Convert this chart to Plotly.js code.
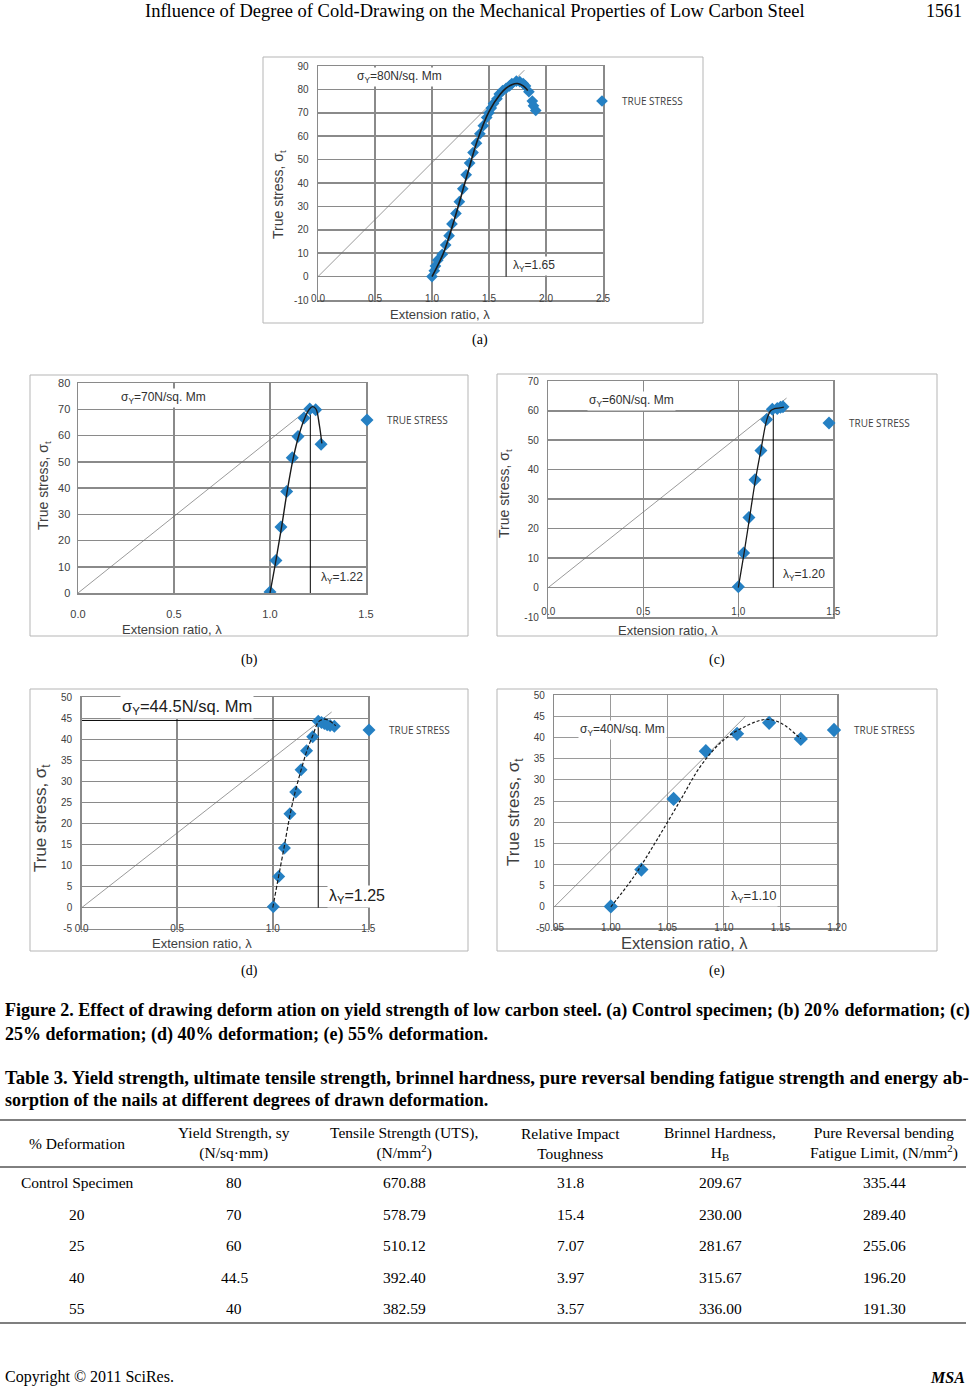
<!DOCTYPE html>
<html><head><meta charset="utf-8">
<script src="https://cdn.plot.ly/plotly-3.0.1.min.js"></script>
<style>html,body{margin:0;padding:0;background:#fff;}#page{width:971px;height:1386px;}</style>
</head><body><div id="page"></div>
<script>
// ===================== DATA =====================
// (a) Control specimen
const aLambda = [1.00,1.02,1.03,1.05,1.09,1.12,1.15,1.175,1.21,1.24,1.27,1.30,1.33,1.36,1.39,1.42,1.45,1.48,1.50,1.52,1.54,1.57,1.59,1.62,1.65,1.68,1.70,1.74,1.77,1.80,1.82,1.85,1.88,1.89,1.91];
const aStress = [0,2.5,4.5,7,9.5,13.5,17.5,22.5,27,32,37.5,43.5,48.5,53,57,61,64.5,68,70,72,74,76,78,79.5,80.5,81.5,82.5,83.5,83.3,82.5,81.5,79,75,73,71];
const aFitLambda = [1.0,1.1,1.2,1.3,1.4,1.5,1.6,1.65,1.7,1.75,1.8,1.84];
const aFitStress = [0,10,25,42,58.5,70.5,78,80.5,82,82.5,81.5,79.5];
const aTanLambda = [0,1.81], aTanStress = [0,88.2];
const aYieldLambda = [1.65,1.65], aYieldStress = [0,80.5];
const aXTicks = [0,0.5,1,1.5,2,2.5], aXLabels = ['0.0','0.5','1.0','1.5','2.0','2.5'];
const aYTicks = [-10,0,10,20,30,40,50,60,70,80,90], aYLabels = ['-10','0','10','20','30','40','50','60','70','80','90'];

// (b) 20% deformation
const bLambda = [1.00,1.031,1.057,1.087,1.116,1.146,1.177,1.207,1.238,1.266];
const bStress = [0.4,12.4,25.1,38.7,51.5,59.6,66.7,70.1,69.8,56.7];
const bFitLambda = [1.0,1.03,1.06,1.09,1.12,1.15,1.18,1.205,1.222,1.24,1.257,1.27];
const bFitStress = [0,12,25,39,51,60,66.5,70,71,70,64,57];
const bTanLambda = [0,1.19], bTanStress = [0,69.5];
const bYieldLambda = [1.21,1.21], bYieldStress = [0,71];
const bXTicks = [0,0.5,1,1.5], bXLabels = ['0.0','0.5','1.0','1.5'];
const bYTicks = [0,10,20,30,40,50,60,70,80], bYLabels = ['0','10','20','30','40','50','60','70','80'];

// (c) 25% deformation
const cLambda = [1.00,1.028,1.056,1.088,1.119,1.149,1.179,1.205,1.222,1.235];
const cStress = [0.3,11.7,23.8,36.6,46.5,57.0,60.5,60.8,61.2,61.4];
const cFitLambda = [1.0,1.03,1.06,1.09,1.12,1.15,1.17,1.19,1.22,1.24];
const cFitStress = [0,11.5,24,36.5,47,57,60,60.7,61,61.2];
const cTanLambda = [0,1.254], cTanStress = [0,64.3];
const cYieldLambda = [1.184,1.184], cYieldStress = [0,60.5];
const cXTicks = [0,0.5,1,1.5], cXLabels = ['0.0','0.5','1.0','1.5'];
const cYTicks = [-10,0,10,20,30,40,50,60,70], cYLabels = ['-10','0','10','20','30','40','50','60','70'];

// (d) 40% deformation
const dLambda = [1.003,1.031,1.061,1.090,1.120,1.148,1.177,1.209,1.238,1.255,1.270,1.285,1.300,1.322];
const dStress = [0.2,7.4,14.2,22.3,27.5,32.8,37.3,40.6,44.3,44.0,43.8,43.5,43.3,43.1];
const dFitLambda = [1.0,1.03,1.06,1.09,1.12,1.15,1.18,1.21,1.24,1.27,1.30,1.33];
const dFitStress = [0,7.3,14.5,22,28,33,37.5,41,44.2,44.8,44.3,43.2];
const dTanLambda = [0,1.308], dTanStress = [0,46.5];
const dYieldLambda = [1.238,1.238], dYieldStress = [0,44.5];
const dSigmaLambda = [0,1.238], dSigmaStress = [44.5,44.5];
const dXTicks = [0,0.5,1,1.5], dXLabels = ['0.0','0.5','1.0','1.5'];
const dYTicks = [-5,0,5,10,15,20,25,30,35,40,45,50], dYLabels = ['-5','0','5','10','15','20','25','30','35','40','45','50'];

// (e) 55% deformation
const eLambda = [1.000,1.027,1.0555,1.084,1.1116,1.140,1.168];
const eStress = [0.1,8.8,25.5,36.8,40.9,43.5,39.7];
const eFitLambda = [1.0,1.02,1.04,1.06,1.08,1.10,1.12,1.137,1.15,1.168];
const eFitStress = [0,7,15.5,24.5,33.5,39.5,42.8,44.3,43.5,39.7];
const eTanLambda = [0.95,1.119], eTanStress = [0,45];
const eXTicks = [0.95,1.0,1.05,1.1,1.15,1.2], eXLabels = ['0.95','1.00','1.05','1.10','1.15','1.20'];
const eYTicks = [-5,0,5,10,15,20,25,30,35,40,45,50], eYLabels = ['-5','0','5','10','15','20','25','30','35','40','45','50'];

// Table 3
const tableDeformation = ['Control Specimen','20','25','40','55'];
const tableYield = ['80','70','60','44.5','40'];
const tableUTS = ['670.88','578.79','510.12','392.40','382.59'];
const tableImpact = ['31.8','15.4','7.07','3.97','3.57'];
const tableHardness = ['209.67','230.00','281.67','315.67','336.00'];
const tableFatigue = ['335.44','289.40','255.06','196.20','191.30'];

// ===================== LAYOUT HELPERS =====================
const W = 971, H = 1386;
const X = p => p / W, Y = p => 1 - p / H;
const SANS = 'Liberation Sans, Arial, sans-serif';
const SERIF = 'Liberation Serif, Times New Roman, serif';
const GRID = '#8a8a8a';
const BLUE = '#2580c3';
const TXT = '#404040';

function xax(l, r, range, tv, tt, standoff, fs) {
  return {domain:[X(l),X(r)], range:range, tickmode:'array', tickvals:tv, ticktext:tt,
    showgrid:true, gridcolor:GRID, gridwidth:1.5, showline:true, mirror:true, linecolor:GRID, linewidth:1.5,
    zeroline:false, ticks:'', ticklabelstandoff:standoff, tickfont:{family:SANS,size:fs||10,color:TXT}, fixedrange:true};
}
function yax(b, t, range, tv, tt, anchor, standoff, fs) {
  return {domain:[Y(b),Y(t)], range:range, anchor:anchor, tickmode:'array', tickvals:tv, ticktext:tt,
    showgrid:true, gridcolor:GRID, gridwidth:1.5, showline:true, mirror:true, linecolor:GRID, linewidth:1.5,
    zeroline:false, ticks:'', ticklabelstandoff:standoff, tickfont:{family:SANS,size:fs||10,color:TXT}, fixedrange:true};
}
function leg(x, y) {
  return {x:X(x), y:Y(y), xanchor:'left', yanchor:'middle', bgcolor:'rgba(0,0,0,0)', borderwidth:0,
    font:{family:'Open Sans, sans-serif', size:10, color:TXT}};
}
function ann(text, x, y, o) {
  const a = {text:text, x:X(x), y:Y(y), xref:'paper', yref:'paper', showarrow:false,
    xanchor:'left', yanchor:'middle', font:{family:SANS, size:12, color:'#303030'}};
  if (o) { for (const k in o) a[k] = (k === 'font') ? Object.assign({}, o[k]) : o[k]; }
  return a;
}

// ===================== TRACES =====================
const traces = [];
function addChart(k, P) {
  const xa = 'x' + k, ya = 'y' + k;
  traces.push({x:P.tanX, y:P.tanY, xaxis:xa, yaxis:ya, mode:'lines', line:{color:'#6e6e6e', width:0.7}, showlegend:false, hoverinfo:'skip'});
  if (P.yX) traces.push({x:P.yX, y:P.yY, xaxis:xa, yaxis:ya, mode:'lines', line:{color:'#000', width:1}, showlegend:false, hoverinfo:'skip'});
  if (P.sX) traces.push({x:P.sX, y:P.sY, xaxis:xa, yaxis:ya, mode:'lines', line:{color:'#000', width:1}, showlegend:false, hoverinfo:'skip'});
  traces.push({x:P.x, y:P.y, xaxis:xa, yaxis:ya, mode:'markers', name:'TRUE STRESS', legend:P.legend,
    marker:{symbol:'diamond', size:P.ms, color:BLUE, line:{width:0}}, showlegend:true});
  traces.push({x:P.fX, y:P.fY, xaxis:xa, yaxis:ya, mode:'lines', line:{color:'#1a1a1a', width:P.fw, shape:'spline', dash:P.dash}, showlegend:false, hoverinfo:'skip'});
}
addChart('', {x:aLambda, y:aStress, fX:aFitLambda, fY:aFitStress, tanX:aTanLambda, tanY:aTanStress, yX:aYieldLambda, yY:aYieldStress, legend:'legend', ms:9, fw:1.6, dash:'solid'});
addChart('2', {x:bLambda, y:bStress, fX:bFitLambda, fY:bFitStress, tanX:bTanLambda, tanY:bTanStress, yX:bYieldLambda, yY:bYieldStress, legend:'legend2', ms:10, fw:1.4, dash:'solid'});
addChart('3', {x:cLambda, y:cStress, fX:cFitLambda, fY:cFitStress, tanX:cTanLambda, tanY:cTanStress, yX:cYieldLambda, yY:cYieldStress, legend:'legend3', ms:10, fw:1.3, dash:'solid'});
addChart('4', {x:dLambda, y:dStress, fX:dFitLambda, fY:dFitStress, tanX:dTanLambda, tanY:dTanStress, yX:dYieldLambda, yY:dYieldStress, sX:dSigmaLambda, sY:dSigmaStress, legend:'legend4', ms:10, fw:1.2, dash:'4px,2px'});
addChart('5', {x:eLambda, y:eStress, fX:eFitLambda, fY:eFitStress, tanX:eTanLambda, tanY:eTanStress, legend:'legend5', ms:11, fw:1.2, dash:'3px,2px'});

// ===================== ANNOTATIONS =====================
const A = [];
// page header / footer
A.push(ann('Influence of Degree of Cold-Drawing on the Mechanical Properties of Low Carbon Steel', 475, 11, {xanchor:'center', font:{family:SERIF,size:18.5,color:'#000'}}));
A.push(ann('1561', 964, 11, {xanchor:'right', font:{family:SERIF,size:18,color:'#000'}}));
A.push(ann('Copyright © 2011 SciRes.', 3, 1377, {font:{family:SERIF,size:16,color:'#000'}}));
A.push(ann('<b><i>MSA</i></b>', 967, 1377, {xanchor:'right', font:{family:SERIF,size:16,color:'#000'}}));
// sub-figure labels
[['(a)',480,340],['(b)',249,660],['(c)',717,660],['(d)',249,971],['(e)',717,971]].forEach(c =>
  A.push(ann(c[0], c[1], c[2], {xanchor:'center', font:{family:SERIF,size:14,color:'#000'}})));
// captions
const CAP = {family:SERIF, size:18, color:'#000', weight:'bold'};
A.push(ann('Figure 2. Effect of drawing deform ation on yield strength of low carbon steel. (a) Control specimen; (b) 20% deformation; (c)', 3, 1010, {font:CAP}));
A.push(ann('25% deformation; (d) 40% deformation; (e) 55% deformation.', 3, 1034, {font:CAP}));
A.push(ann('Table 3. Yield strength, ultimate tensile strength, brinnel hardness, pure reversal bending fatigue strength and energy ab-', 3, 1077, {font:{family:SERIF, size:18.7, color:'#000', weight:'bold'}}));
A.push(ann('sorption of the nails at different degrees of drawn deformation.', 3, 1100, {font:CAP}));

// chart axis titles
const AT = (t, x, y, s, rot) => A.push(ann(t, x, y, {xanchor:'center', textangle:rot||0, font:{family:SANS,size:s,color:TXT}}));
AT('Extension ratio, λ', 440, 314, 13);
AT('True stress, σ<sub>t</sub>', 279, 195, 14, -90);
AT('Extension ratio, λ', 172, 629, 13);
AT('True stress, σ<sub>t</sub>', 44, 486, 14, -90);
AT('Extension ratio, λ', 668, 630, 13);
AT('True stress, σ<sub>t</sub>', 505, 494, 14, -90);
AT('Extension ratio, λ', 202, 943, 13);
AT('True stress, σ<sub>t</sub>', 42, 818, 17, -90);
AT('Extension ratio, λ', 684, 943, 16.5);
AT('True stress, σ<sub>t</sub>', 515, 812, 17, -90);

// in-chart labels
const WB = {bgcolor:'#fff'};
A.push(ann('σ<sub>Y</sub>=80N/sq. Mm', 355, 77, WB));
A.push(ann('λ<sub>Y</sub>=1.65', 511, 266, WB));
A.push(ann('σ<sub>Y</sub>=70N/sq. Mm', 119, 398, WB));
A.push(ann('λ<sub>Y</sub>=1.22', 319, 578, WB));
A.push(ann('σ<sub>Y</sub>=60N/sq. Mm', 587, 401, WB));
A.push(ann('λ<sub>Y</sub>=1.20', 781, 575, WB));
A.push(ann('σ<sub>Y</sub>=44.5N/sq. Mm', 120, 707, {bgcolor:'#fff', font:{family:SANS,size:16.5,color:'#202020'}}));
A.push(ann('λ<sub>Y</sub>=1.25', 327, 896, {bgcolor:'#fff', font:{family:SANS,size:16,color:'#202020'}}));
A.push(ann('σ<sub>Y</sub>=40N/sq. Mm', 578, 730, WB));
A.push(ann('λ<sub>Y</sub>=1.10', 729, 896, {bgcolor:'#fff', font:{family:SANS,size:13,color:'#303030'}}));

// table
const colX = [77, 234, 404, 570, 720, 884];
const heads = ['% Deformation','Yield Strength, sy<br>(N/sq·mm)','Tensile Strength (UTS),<br>(N/mm<sup>2</sup>)',
  'Relative Impact<br>Toughness','Brinnel Hardness,<br>H<sub>B</sub>','Pure Reversal bending<br>Fatigue Limit, (N/mm<sup>2</sup>)'];
heads.forEach((h,i) => A.push(ann(h, colX[i], 1143, {xanchor:'center', font:{family:SERIF, size:15.5, color:'#000'}})));
const rowY = [1182, 1214, 1245, 1277, 1308];
const cols = [tableDeformation, tableYield, tableUTS, tableImpact, tableHardness, tableFatigue];
cols.forEach((col,i) => col.forEach((v,j) => A.push(ann(v, colX[i], rowY[j], {xanchor:'center', font:{family:SERIF, size:15.5, color:'#000'}}))));

// ===================== SHAPES =====================
const S = [];
const box = (l,t,r,b) => S.push({type:'rect', xref:'paper', yref:'paper', x0:X(l), x1:X(r), y0:Y(b), y1:Y(t), line:{color:'#b5b5b5', width:1}});
box(263,57,703,323); box(30,375,468,636); box(497,374,937,636); box(30,689,468,951); box(497,689,937,951);
const hl = (y, w) => S.push({type:'line', xref:'paper', yref:'paper', x0:X(0), x1:X(966), y0:Y(y), y1:Y(y), line:{color:'#000', width:w}});
hl(1120,1.2); hl(1167,1); hl(1323,1.2);

// ===================== LAYOUT =====================
const layout = {
  width:W, height:H, margin:{l:0,r:0,t:0,b:0,pad:0}, paper_bgcolor:'#fff', plot_bgcolor:'#fff',
  font:{family:SANS, color:TXT}, showlegend:true, hovermode:false,
  xaxis:  xax(318, 603, [0,2.5], aXTicks, aXLabels, -12),
  yaxis:  yax(300, 66, [-10,90], aYTicks, aYLabels, 'x', 6),
  xaxis2: Object.assign(xax(78, 366, [0,1.5], bXTicks, bXLabels, 10, 11), {anchor:'y2'}),
  yaxis2: yax(593, 383, [0,80], bYTicks, bYLabels, 'x2', 4, 11),
  xaxis3: Object.assign(xax(548.3, 833.3, [0,1.5], cXTicks, cXLabels, -16), {anchor:'y3'}),
  yaxis3: yax(617, 381.3, [-10,70], cYTicks, cYLabels, 'x3', 6),
  xaxis4: Object.assign(xax(81.7, 368.3, [0,1.5], dXTicks, dXLabels, -10), {anchor:'y4'}),
  yaxis4: yax(928.7, 697.3, [-5,50], dYTicks, dYLabels, 'x4', 6),
  xaxis5: Object.assign(xax(554.3, 837, [0.95,1.2], eXTicks, eXLabels, -11), {anchor:'y5'}),
  yaxis5: yax(928, 695.3, [-5,50], eYTicks, eYLabels, 'x5', 6),
  legend: leg(582, 101), legend2: leg(347, 420), legend3: leg(809, 423), legend4: leg(349, 730), legend5: leg(814, 730),
  annotations: A, shapes: S
};
layout.xaxis5.gridwidth = 1; layout.yaxis5.gridwidth = 1; layout.xaxis5.gridcolor = '#9a9a9a'; layout.yaxis5.gridcolor = '#9a9a9a';
Plotly.newPlot('page', traces, layout, {staticPlot:true, displayModeBar:false});
</script></body></html>
